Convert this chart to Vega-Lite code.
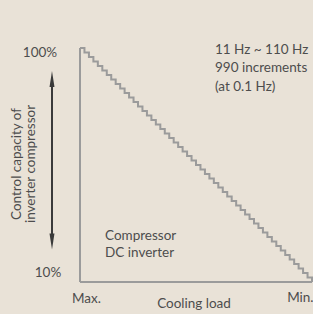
{
  "$schema": "https://vega.github.io/schema/vega-lite/v6.json",
  "width": 232,
  "height": 234,
  "autosize": {"type": "none"},
  "padding": {"left": 80, "top": 48, "right": 1, "bottom": 32},
  "background": "#e9e2d7",
  "config": {
    "view": {"stroke": null},
    "axis": {"labels": false, "ticks": false, "grid": false, "domainColor": "#9b9b9b", "domainWidth": 2, "translate": 0, "title": null},
    "text": {"font": "Lato", "fontSize": 13.5, "color": "#4d4d4d"}
  },
  "datasets": {
    "steps": [
      {"load": 0, "capacity": 100}, {"load": 1.92, "capacity": 98.27}, {"load": 3.85, "capacity": 96.54},
      {"load": 5.77, "capacity": 94.81}, {"load": 7.69, "capacity": 93.08}, {"load": 9.62, "capacity": 91.35},
      {"load": 11.54, "capacity": 89.62}, {"load": 13.46, "capacity": 87.88}, {"load": 15.38, "capacity": 86.15},
      {"load": 17.31, "capacity": 84.42}, {"load": 19.23, "capacity": 82.69}, {"load": 21.15, "capacity": 80.96},
      {"load": 23.08, "capacity": 79.23}, {"load": 25, "capacity": 77.5}, {"load": 26.92, "capacity": 75.77},
      {"load": 28.85, "capacity": 74.04}, {"load": 30.77, "capacity": 72.31}, {"load": 32.69, "capacity": 70.58},
      {"load": 34.62, "capacity": 68.85}, {"load": 36.54, "capacity": 67.12}, {"load": 38.46, "capacity": 65.38},
      {"load": 40.38, "capacity": 63.65}, {"load": 42.31, "capacity": 61.92}, {"load": 44.23, "capacity": 60.19},
      {"load": 46.15, "capacity": 58.46}, {"load": 48.08, "capacity": 56.73}, {"load": 50, "capacity": 55},
      {"load": 51.92, "capacity": 53.27}, {"load": 53.85, "capacity": 51.54}, {"load": 55.77, "capacity": 49.81},
      {"load": 57.69, "capacity": 48.08}, {"load": 59.62, "capacity": 46.35}, {"load": 61.54, "capacity": 44.62},
      {"load": 63.46, "capacity": 42.88}, {"load": 65.38, "capacity": 41.15}, {"load": 67.31, "capacity": 39.42},
      {"load": 69.23, "capacity": 37.69}, {"load": 71.15, "capacity": 35.96}, {"load": 73.08, "capacity": 34.23},
      {"load": 75, "capacity": 32.5}, {"load": 76.92, "capacity": 30.77}, {"load": 78.85, "capacity": 29.04},
      {"load": 80.77, "capacity": 27.31}, {"load": 82.69, "capacity": 25.58}, {"load": 84.62, "capacity": 23.85},
      {"load": 86.54, "capacity": 22.12}, {"load": 88.46, "capacity": 20.38}, {"load": 90.38, "capacity": 18.65},
      {"load": 92.31, "capacity": 16.92}, {"load": 94.23, "capacity": 15.19}, {"load": 96.15, "capacity": 13.46},
      {"load": 98.08, "capacity": 11.73}, {"load": 100, "capacity": 10}
    ],
    "labels": [
      {"text": "100%", "load": -17.24, "capacity": 96.4},
      {"text": "10%", "load": -13.79, "capacity": 11.8},
      {"text": "Max.", "load": 2.8, "capacity": 2.0},
      {"text": "Min.", "load": 94.97, "capacity": 2.5},
      {"text": "Cooling load", "load": 49.14, "capacity": 0.0}
    ],
    "notes": [
      {"text": "11 Hz ~ 110 Hz", "load": 58.19, "capacity": 97.7},
      {"text": "990 increments", "load": 58.19, "capacity": 90.6},
      {"text": "(at 0.1 Hz)", "load": 58.19, "capacity": 83.5},
      {"text": "Compressor", "load": 10.78, "capacity": 26.0},
      {"text": "DC inverter", "load": 10.78, "capacity": 19.6}
    ],
    "ytitle": [
      {"text": "Control capacity of", "load": -25.43, "capacity": 55.4},
      {"text": "inverter compressor", "load": -19.61, "capacity": 55.4}
    ],
    "arrow": [{"load": -12.07, "top": 88.1, "bottom": 25.6}]
  },
  "layer": [
    {
      "data": {"name": "steps"},
      "mark": {"type": "line", "interpolate": "step-after", "color": "#9b9b9b", "strokeWidth": 2},
      "encoding": {
        "x": {"field": "load", "type": "quantitative", "scale": {"domain": [0, 100], "nice": false, "zero": false}},
        "y": {"field": "capacity", "type": "quantitative", "scale": {"domain": [10, 100], "nice": false, "zero": false}}
      }
    },
    {
      "data": {"name": "arrow"},
      "mark": {"type": "rule", "color": "#3a3a3a", "strokeWidth": 2},
      "encoding": {
        "x": {"field": "load", "type": "quantitative"},
        "y": {"field": "top", "type": "quantitative"},
        "y2": {"field": "bottom"}
      }
    },
    {
      "data": {"name": "arrow"},
      "mark": {"type": "point", "shape": "M0,-1L0.31,1L-0.31,1Z", "size": 256, "filled": true, "color": "#3a3a3a", "opacity": 1},
      "encoding": {
        "x": {"field": "load", "type": "quantitative"},
        "y": {"field": "top", "type": "quantitative"}
      }
    },
    {
      "data": {"name": "arrow"},
      "mark": {"type": "point", "shape": "M0,1L0.31,-1L-0.31,-1Z", "size": 256, "filled": true, "color": "#3a3a3a", "opacity": 1},
      "encoding": {
        "x": {"field": "load", "type": "quantitative"},
        "y": {"field": "bottom", "type": "quantitative"}
      }
    },
    {
      "data": {"name": "labels"},
      "mark": {"type": "text", "align": "center", "baseline": "alphabetic"},
      "encoding": {
        "x": {"field": "load", "type": "quantitative"},
        "y": {"field": "capacity", "type": "quantitative"},
        "text": {"field": "text"}
      }
    },
    {
      "data": {"name": "notes"},
      "mark": {"type": "text", "align": "left", "baseline": "alphabetic"},
      "encoding": {
        "x": {"field": "load", "type": "quantitative"},
        "y": {"field": "capacity", "type": "quantitative"},
        "text": {"field": "text"}
      }
    },
    {
      "data": {"name": "ytitle"},
      "mark": {"type": "text", "align": "center", "baseline": "alphabetic", "angle": 270},
      "encoding": {
        "x": {"field": "load", "type": "quantitative"},
        "y": {"field": "capacity", "type": "quantitative"},
        "text": {"field": "text"}
      }
    }
  ]
}
